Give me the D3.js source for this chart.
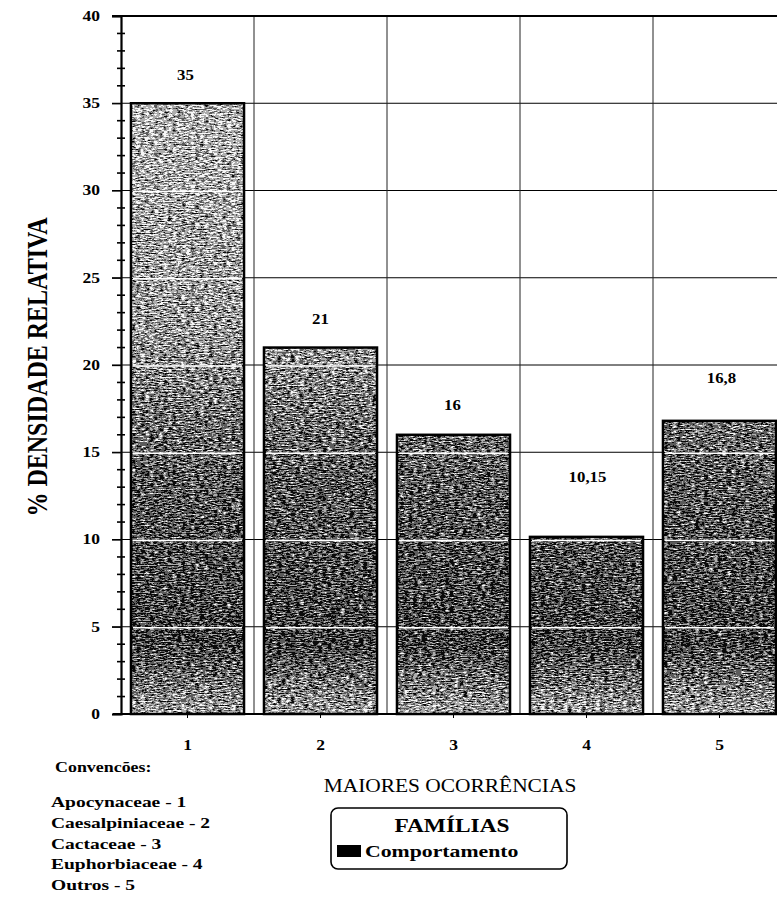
<!DOCTYPE html>
<html>
<head>
<meta charset="utf-8">
<script src="https://cdn.jsdelivr.net/npm/d3@7/dist/d3.min.js"></script>
<style>
  html, body { margin: 0; padding: 0; background: #fff; }
  svg { display: block; }
  svg text { font-family: "Liberation Serif", "Times New Roman", serif; fill: #000; }
</style>
</head>
<body>
<svg id="chart" width="777" height="907" font-family="Liberation Serif, serif"></svg>
<script>
// Relative density of the most frequent plant families
const categories = ["1", "2", "3", "4", "5"];
const densities = [35, 21, 16, 10.15, 16.8];
const valueLabels = ["35", "21", "16", "10,15", "16,8"];
const yTicks = [0, 5, 10, 15, 20, 25, 30, 35, 40];
const conventions = ["Apocynaceae - 1", "Caesalpiniaceae - 2", "Cactaceae - 3", "Euphorbiaceae - 4", "Outros - 5"];
const legendItems = ["Comportamento"];

// how far each value label sits above its bar (px)
const labelLift = [28, 29, 30, 60, 43];
const labelShift = [-2, 0, -1, 1, 2];

const svg = d3.select("#chart");
const W = 777;
const x0 = 121, x1 = 786, yTop = 16, yBase = 714;

const x = d3.scaleBand().domain(categories).range([x0, x1]).paddingInner(0.15).paddingOuter(0.075);
const y = d3.scaleLinear().domain([0, 40]).range([yBase, yTop]);

// text with a slightly widened face
function label(g, px, py, str, size, opts = {}) {
  const sx = opts.sx || 1.25;
  return g.append("text")
    .attr("transform", `translate(${px},${py}) scale(${sx},1)`)
    .attr("text-anchor", opts.anchor || "start")
    .attr("dominant-baseline", opts.baseline || "auto")
    .attr("font-family", "Liberation Serif, serif")
    .attr("font-size", size)
    .attr("font-weight", opts.weight || "bold")
    .text(str);
}

// ---- bar fill: vertical grey ramp broken up by a coarse grain
const defs = svg.append("defs");
const grad = defs.append("linearGradient")
  .attr("id", "shade").attr("gradientUnits", "userSpaceOnUse")
  .attr("x1", 0).attr("x2", 0).attr("y1", y(40)).attr("y2", y(0));
[[40, "#a8a8a8"], [30, "#9c9c9c"], [22, "#8e8e8e"], [18, "#777777"], [14, "#5e5e5e"],
 [8, "#505050"], [4, "#474747"], [2, "#6e6e6e"], [0, "#949494"]]
  .forEach(([v, c]) => grad.append("stop").attr("offset", (40 - v) / 40).attr("stop-color", c));

const f = defs.append("filter").attr("id", "grain")
  .attr("x", 0).attr("y", 0).attr("width", 1).attr("height", 1)
  .attr("color-interpolation-filters", "sRGB");
f.append("feTurbulence").attr("type", "fractalNoise").attr("baseFrequency", "0.22 0.75")
  .attr("numOctaves", 3).attr("seed", 11).attr("result", "noise");
f.append("feColorMatrix").attr("in", "noise").attr("type", "matrix")
  .attr("values", "1 0 0 0 0  1 0 0 0 0  1 0 0 0 0  0 0 0 0 1").attr("result", "gnoise");
f.append("feComposite").attr("in", "SourceGraphic").attr("in2", "gnoise")
  .attr("operator", "arithmetic").attr("k1", 0).attr("k2", 1).attr("k3", 1.7).attr("k4", -0.85)
  .attr("result", "mix");
const ct = f.append("feComponentTransfer").attr("in", "mix").attr("result", "dots");
["feFuncR", "feFuncG", "feFuncB"].forEach(fn =>
  ct.append(fn).attr("type", "discrete").attr("tableValues", "0.04 0.36 0.68 0.97"));
f.append("feComposite").attr("in", "dots").attr("in2", "SourceAlpha").attr("operator", "in");

// ---- grid
const grid = svg.append("g");
grid.selectAll("line.h").data(yTicks.filter(v => v > 0 && v < 40)).join("line")
  .attr("x1", 112).attr("x2", W).attr("y1", d => y(d)).attr("y2", d => y(d))
  .attr("stroke", "#000").attr("stroke-width", 1);
grid.selectAll("line.v").data(categories.slice(1)).join("line")
  .attr("x1", d => x(d) - x.step() * x.paddingInner() / 2)
  .attr("x2", d => x(d) - x.step() * x.paddingInner() / 2)
  .attr("y1", yTop).attr("y2", yBase)
  .attr("stroke", "#222").attr("stroke-width", 1);

// ---- bars
const bars = svg.append("g");
bars.selectAll("rect.fill").data(densities).join("rect")
  .attr("x", (d, i) => x(categories[i])).attr("width", x.bandwidth())
  .attr("y", d => y(d)).attr("height", d => y(0) - y(d))
  .attr("fill", "url(#shade)").attr("filter", "url(#grain)");
// light streaks where the grid crosses the bars
densities.forEach((d, i) => {
  bars.selectAll(null).data(yTicks.filter(v => v > 0 && v < d)).join("line")
    .attr("x1", x(categories[i]) + 2).attr("x2", x(categories[i]) + x.bandwidth() - 2)
    .attr("y1", v => y(v) + 1).attr("y2", v => y(v) + 1)
    .attr("stroke", "#fff").attr("stroke-width", 1.4);
});
bars.selectAll("rect.edge").data(densities).join("rect")
  .attr("x", (d, i) => x(categories[i])).attr("width", x.bandwidth())
  .attr("y", d => y(d)).attr("height", d => y(0) - y(d))
  .attr("fill", "none").attr("stroke", "#000").attr("stroke-width", 2.5);

// ---- value labels
const vl = svg.append("g");
densities.forEach((d, i) => {
  label(vl, x(categories[i]) + x.bandwidth() / 2 + labelShift[i], y(d) - labelLift[i],
        valueLabels[i], 14, { anchor: "middle", baseline: "central", sx: 1.2 });
});

// ---- frame top and baseline
svg.append("line").attr("x1", 112).attr("x2", W).attr("y1", y(40)).attr("y2", y(40))
  .attr("stroke", "#000").attr("stroke-width", 2);
svg.append("line").attr("x1", 113).attr("x2", W).attr("y1", y(0)).attr("y2", y(0))
  .attr("stroke", "#000").attr("stroke-width", 2.2);

// ---- y axis
const yAxis = svg.append("g").attr("transform", `translate(${x0},0)`)
  .call(d3.axisLeft(y).tickValues(yTicks).tickSize(9).tickFormat(""));
yAxis.select(".domain").attr("stroke-width", 2.2);
yAxis.selectAll(".tick line").attr("stroke-width", 1.3);
const yl = svg.append("g");
yTicks.forEach(v => label(yl, x0 - 21, y(v), String(v), 14, { anchor: "end", baseline: "central" }));
const minor = d3.range(1, 40).filter(v => v % 5 !== 0);
svg.append("g").selectAll("line").data(minor).join("line")
  .attr("x1", x0 - 4).attr("x2", x0 + 4).attr("y1", d => y(d)).attr("y2", d => y(d))
  .attr("stroke", "#000").attr("stroke-width", 1.6);

// ---- x axis
const xAxis = svg.append("g").attr("transform", `translate(0,${yBase})`)
  .call(d3.axisBottom(x).tickSize(4).tickFormat(""));
xAxis.select(".domain").remove();
const xl = svg.append("g");
categories.forEach(c => label(xl, x(c) + x.bandwidth() / 2, yBase + 31, c, 14, { anchor: "middle", baseline: "central" }));

// ---- axis titles
svg.append("text")
  .attr("transform", `translate(37,${(yTop + yBase) / 2 + 2}) scale(1.22,1) rotate(-90)`)
  .attr("text-anchor", "middle").attr("dominant-baseline", "central")
  .attr("font-family", "Liberation Serif, serif")
  .attr("font-size", 24).attr("font-weight", "bold")
  .text("% DENSIDADE RELATIVA");
label(svg, 450, 792, "MAIORES OCORRÊNCIAS", 18, { anchor: "middle", weight: "normal", sx: 1.19 });

// ---- conventions
label(svg, 55, 772, "Convencões:", 14, { sx: 1.28 });
const cv = svg.append("g");
conventions.forEach((t, i) => label(cv, 51, 807 + i * 20.8, t, 15, { sx: 1.3 }));

// ---- legend
const lg = svg.append("g");
lg.append("rect").attr("x", 331).attr("y", 808).attr("width", 236).attr("height", 61)
  .attr("rx", 7).attr("fill", "#fff").attr("stroke", "#000").attr("stroke-width", 1.6);
label(lg, 452, 832, "FAMÍLIAS", 18, { anchor: "middle", sx: 1.3 });
legendItems.forEach((t, i) => {
  lg.append("rect").attr("x", 337).attr("y", 845 + i * 20).attr("width", 24).attr("height", 12).attr("fill", "#000");
  label(lg, 365, 857 + i * 20, t, 16, { sx: 1.36 });
});
</script>
</body>
</html>
